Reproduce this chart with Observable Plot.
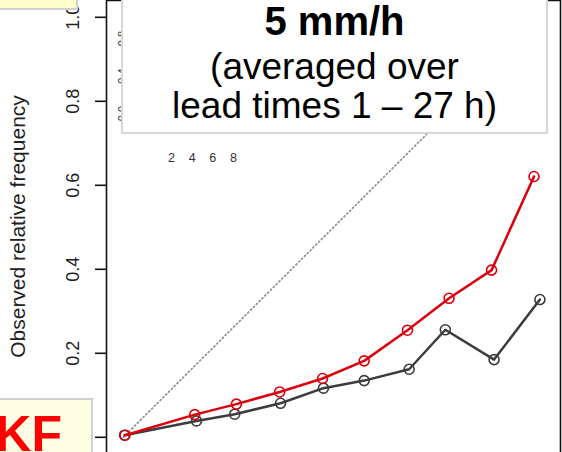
<!DOCTYPE html>
<html>
<head>
<meta charset="utf-8">
<script src="https://cdn.jsdelivr.net/npm/d3@7"></script>
<script src="https://cdn.jsdelivr.net/npm/@observablehq/plot@0.6"></script>
<style>
  html, body { margin: 0; padding: 0; background: white; }
  #chart { position: relative; width: 562px; height: 452px; overflow: hidden; }
</style>
</head>
<body>
<div id="chart"></div>
<script>
// ---- data ----
const redForecast  = [0.004, 0.170, 0.269, 0.372, 0.474, 0.573, 0.676, 0.775, 0.876, 0.977];
const redObserved  = [0.005, 0.054, 0.079, 0.108, 0.140, 0.182, 0.255, 0.331, 0.398, 0.621];
const grayForecast = [0.003, 0.174, 0.265, 0.374, 0.476, 0.573, 0.680, 0.766, 0.882, 0.991];
const grayObserved = [0.005, 0.039, 0.055, 0.081, 0.117, 0.135, 0.162, 0.256, 0.185, 0.328];
const diagonal = [0, 1];
const yTicks = [0, 0.2, 0.4, 0.6, 0.8, 1.0];
const yLabel = "Observed relative frequency";
const insetXTicks = [2, 4, 6, 8];
const insetYTicks = [0, 0.4, 0.8];
const titleLines = ["5 mm/h", "(averaged over", "lead times 1 \u2013 27 h)"];
const badgeText = "KF";

const RED = "#da000e";
const GRAY = "#3c3c3c";
const FONT = "'Liberation Sans', Arial, Helvetica, sans-serif";

const toRows = (xs, ys) => xs.map((x, i) => ({x, y: ys[i]}));
const red = toRows(redForecast, redObserved);
const gray = toRows(grayForecast, grayObserved);
const diag = diagonal.map(d => ({x: d, y: d}));

const chart = Plot.plot({
  width: 562, height: 452,
  marginLeft: 106, marginRight: 2, marginTop: 0, marginBottom: 0,
  x: {domain: [-0.04, 1.04], axis: null},
  y: {domain: [-0.0362, 1.04], axis: null},
  style: {fontFamily: FONT, background: "white", overflow: "visible", color: "#111"},
  marks: [
    Plot.line(diag, {x: "x", y: "y", stroke: "#8a8a8a", strokeWidth: 1.6, strokeDasharray: "1.3,2.7"}),
    Plot.line(gray, {x: "x", y: "y", stroke: GRAY, strokeWidth: 2.5}),
    Plot.dot(gray, {x: "x", y: "y", r: 5, stroke: GRAY, strokeWidth: 1.6, fill: "none"}),
    Plot.line(red, {x: "x", y: "y", stroke: RED, strokeWidth: 2.5}),
    Plot.dot(red, {x: "x", y: "y", r: 5, stroke: RED, strokeWidth: 1.6, fill: "none"}),
    Plot.ruleX([-0.04, 1.04], {stroke: "#111", strokeWidth: 1.6}),
    Plot.ruleY([1.04], {stroke: "#111", strokeWidth: 1.6}),
    Plot.axisY({ticks: yTicks, tickSize: 11, tickPadding: 17, tickRotate: -90, fontSize: 18,
                tickFormat: d3.format(".1f"), label: null, stroke: "#111", strokeWidth: 1.6, fill: "#222"}),
    Plot.text([yLabel], {frameAnchor: "left", rotate: -90, dx: -88, fontSize: 21, textAnchor: "middle",
                         lineAnchor: "middle", fill: "#222"})
  ]
});

// small inset (histogram axes) partly hidden by the title box
const inset = Plot.plot({
  width: 160, height: 170,
  marginLeft: 71, marginRight: 27, marginTop: 38, marginBottom: 57,
  x: {domain: [2, 8]},
  y: {domain: [0, 0.8]},
  style: {fontFamily: FONT, background: "none", overflow: "visible", width: "160px", height: "170px"},
  marks: [
    Plot.axisX({ticks: insetXTicks, tickSize: 0, tickPadding: 40, fontSize: 12.5, fill: "#333",
                tickFormat: d3.format("d"), label: null}),
    Plot.axisY({ticks: insetYTicks, tickSize: 0, tickPadding: 46, tickRotate: -90, fontSize: 11,
                tickFormat: d3.format(".1f"), fill: "#333", label: null})
  ]
});
inset.setAttribute("x", 100);
inset.setAttribute("y", 0);
inset.style.width = "160px";
inset.style.height = "170px";
chart.appendChild(inset);

// overlay boxes
const svg = d3.select(chart);
const tb = svg.append("g");
tb.append("rect").attr("x", 122).attr("y", -3).attr("width", 425).attr("height", 136)
  .attr("fill", "white").attr("stroke", "#d6d6d6").attr("stroke-width", 2);
const tx = 334.5;
const base = [35, 79, 118];
titleLines.forEach((t, i) => {
  tb.append("text").attr("x", tx).attr("y", base[i]).attr("text-anchor", "middle")
    .attr("font-family", FONT).attr("font-size", i === 0 ? 40 : 37)
    .attr("font-weight", i === 0 ? "bold" : "normal").attr("fill", "#000").text(t);
});

const yb = svg.append("g");
yb.append("rect").attr("x", -3).attr("y", -3).attr("width", 80).attr("height", 12)
  .attr("fill", "#ffffcc").attr("stroke", "#cfcfcf").attr("stroke-width", 2);
yb.append("rect").attr("x", -3).attr("y", 399).attr("width", 95).attr("height", 60)
  .attr("fill", "#fffde2").attr("stroke", "#cfcfcf").attr("stroke-width", 2);
yb.append("text").attr("x", 62).attr("y", 451).attr("text-anchor", "end")
  .attr("font-family", FONT).attr("font-size", 50).attr("font-weight", "bold")
  .attr("fill", "#ff0000").text(badgeText);

document.getElementById("chart").appendChild(chart);
</script>
</body>
</html>
